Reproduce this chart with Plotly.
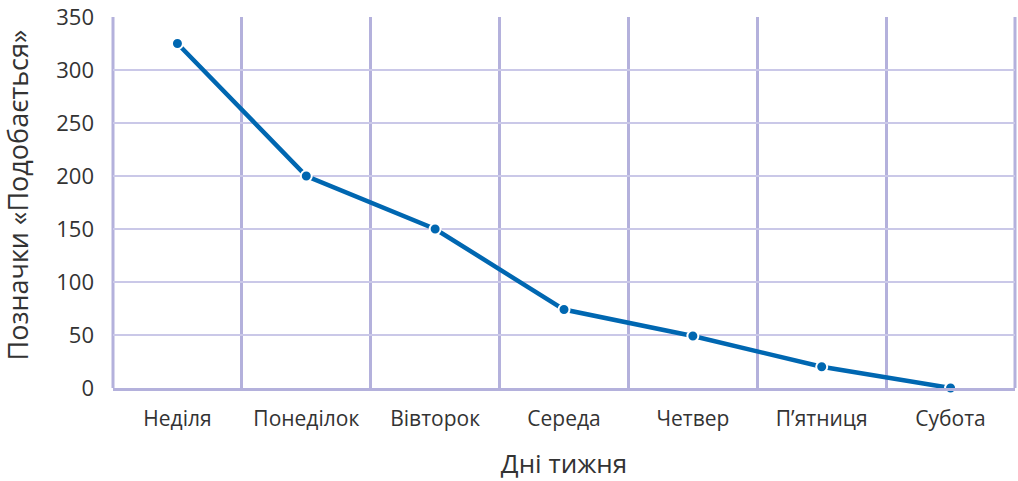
import plotly.graph_objects as go

days = ['Неділя', 'Понеділок', 'Вівторок', 'Середа', 'Четвер', 'П’ятниця', 'Субота']
likes = [325, 200, 150, 74, 49, 20, 0]

GRID = '#b4b1dc'
GRID_LIGHT = '#cac8e8'
TEXT = '#333333'
LINE = '#0067b1'
FONT = 'Open Sans, Noto Sans, sans-serif'

fig = go.Figure()

fig.add_trace(go.Scatter(
    x=days,
    y=likes,
    mode='lines+markers',
    line=dict(color=LINE, width=4.5),
    marker=dict(size=11, color=LINE, line=dict(color='white', width=2)),
    cliponaxis=False,
    showlegend=False
))

fig.update_layout(
    width=1018,
    height=481,
    plot_bgcolor='white',
    paper_bgcolor='white',
    margin=dict(l=113, r=3, t=17, b=93),
    font=dict(family=FONT, color=TEXT),
    xaxis=dict(
        type='category',
        automargin=False,
        tickson='boundaries',
        showgrid=True,
        gridcolor=GRID,
        gridwidth=3,
        showline=True,
        linecolor=GRID,
        linewidth=3,
        ticks='',
        ticklabelstandoff=10,
        tickfont=dict(size=21, color=TEXT),
        title=dict(text='Дні тижня', font=dict(size=26, color=TEXT), standoff=28),
        range=[-0.5, 6.5]
    ),
    yaxis=dict(
        range=[-0.01, 350.01],
        tick0=0,
        dtick=50,
        automargin=False,
        ticklabeloverflow='allow',
        showgrid=True,
        gridcolor=GRID_LIGHT,
        gridwidth=1.5,
        zeroline=False,
        showline=False,
        ticks='',
        ticklabelstandoff=18,
        tickfont=dict(size=22, color=TEXT),
    ),
    yaxis2=dict(
        overlaying='y',
        range=[-0.01, 350.01],
        tick0=0,
        dtick=100,
        showgrid=True,
        gridcolor=GRID,
        gridwidth=3,
        zeroline=False,
        showticklabels=False,
        ticks=''
    ),
    shapes=[
        dict(type='line', xref='paper', yref='paper', x0=1, x1=1, y0=0, y1=1,
             line=dict(color=GRID, width=3), layer='below'),
        dict(type='line', xref='paper', yref='paper', x0=0, x1=0, y0=0, y1=1,
             line=dict(color=GRID, width=3), layer='below')
    ]
)

# y title as an annotation so it can sit close to the left edge
fig.add_annotation(
    text='Позначки «Подобається»',
    textangle=-90,
    xref='paper', yref='paper',
    x=0, y=0.5,
    xanchor='center', yanchor='middle',
    xshift=-96, yshift=7,
    showarrow=False,
    font=dict(size=27, color=TEXT)
)

# drop the default body margin so the figure fills the window exactly
fig.write_html('out.html', config={'displayModeBar': False},
               post_script="document.body.style.margin='0';")
